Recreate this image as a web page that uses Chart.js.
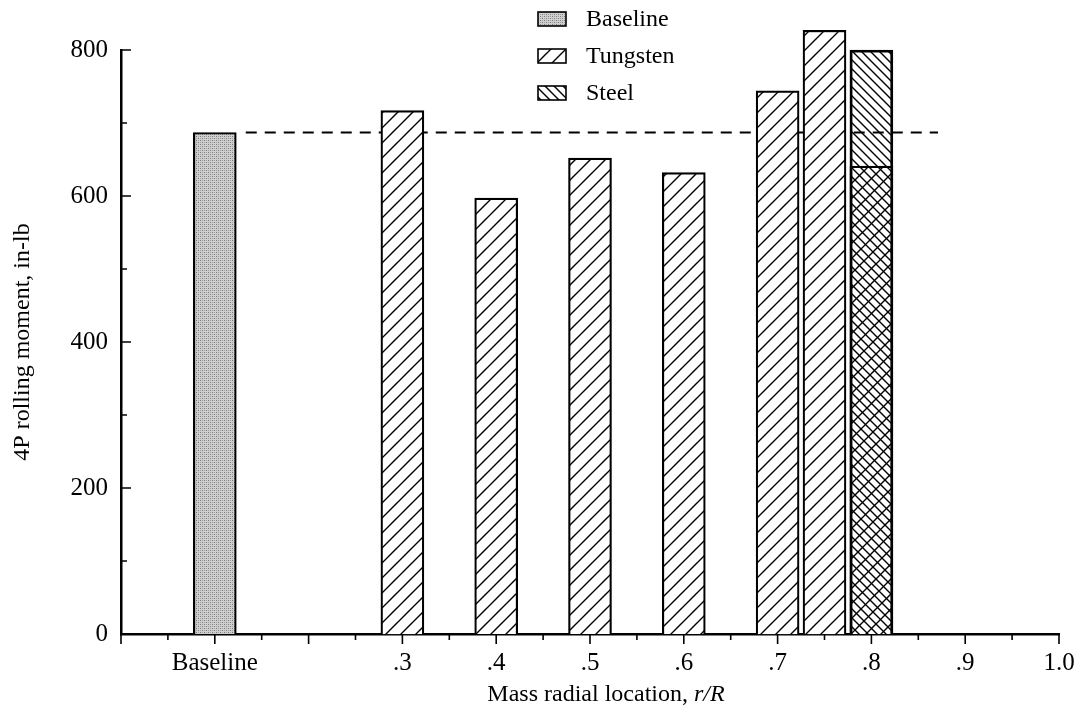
<!DOCTYPE html>
<html>
<head>
<meta charset="utf-8">
<script src="https://cdn.jsdelivr.net/npm/chart.js@4"></script>
<style>
  html, body { margin: 0; padding: 0; background: #fff; }
  #wrap { width: 1081px; height: 715px; }
</style>
</head>
<body>
<div id="wrap"><canvas id="rollChart" width="1081" height="715"></canvas></div>
<script>
// 질량 반경 위치별 4P 롤링 모멘트
const xTickValues = [0.1, 0.3, 0.4, 0.5, 0.6, 0.7, 0.8, 0.9, 1.0];
const xTickLabels = ['Baseline', '.3', '.4', '.5', '.6', '.7', '.8', '.9', '1.0'];

const baselineX = [0.1];
const baselineValues = [687];

const tungstenX = [0.3, 0.4, 0.5, 0.6, 0.7, 0.75, 0.8];
const tungstenValues = [717, 597, 652, 632, 744, 827, 641];

const steelX = [0.8];
const steelValues = [800];

// 기준선 (Baseline 값) 점선 구간
const refLineX = [0.133, 0.871];

const FONT = "'Liberation Serif', 'DejaVu Serif', serif";

function makeHatch(dir, size, bg) {
  const c = document.createElement('canvas');
  c.width = size; c.height = size;
  const g = c.getContext('2d');
  if (bg) { g.fillStyle = bg; g.fillRect(0, 0, size, size); }
  g.strokeStyle = '#000';
  g.lineWidth = 1.4;
  g.beginPath();
  if (dir === '/') {
    g.moveTo(0, size); g.lineTo(size, 0);
    g.moveTo(-2, 2); g.lineTo(2, -2);
    g.moveTo(size - 2, size + 2); g.lineTo(size + 2, size - 2);
  } else {
    g.moveTo(0, 0); g.lineTo(size, size);
    g.moveTo(-2, size - 2); g.lineTo(2, size + 2);
    g.moveTo(size - 2, -2); g.lineTo(size + 2, 2);
  }
  g.stroke();
  return g.createPattern(c, 'repeat');
}

function makeStipple() {
  const c = document.createElement('canvas');
  c.width = 4; c.height = 4;
  const g = c.getContext('2d');
  g.fillStyle = '#cfcfcf';
  g.fillRect(0, 0, 4, 4);
  g.fillStyle = '#7a7a7a';
  g.fillRect(0, 0, 1, 1);
  g.fillRect(2, 2, 1, 1);
  g.fillStyle = '#a4a4a4';
  g.fillRect(2, 0, 1, 1);
  g.fillRect(0, 2, 1, 1);
  return g.createPattern(c, 'repeat');
}

const stipple = makeStipple();
const tungstenFill = makeHatch('/', 15, '#fff');
const steelFill = makeHatch('\\', 9, null);

// 축 눈금 (안쪽/바깥쪽) 직접 그리기
const tickMarks = {
  id: 'tickMarks',
  afterDraw(chart) {
    const { ctx } = chart;
    const x = chart.scales.x, y = chart.scales.y;
    ctx.save();
    ctx.strokeStyle = '#000';
    ctx.lineWidth = 1.6;
    ctx.beginPath();
    x.ticks.forEach((t, i) => {
      const px = x.getPixelForValue(t.value);
      const len = i % 2 === 0 ? 10 : 6;
      ctx.moveTo(px, y.bottom); ctx.lineTo(px, y.bottom + len);
    });
    y.ticks.forEach(t => {
      const py = y.getPixelForValue(t.value);
      const len = t.value % 200 === 0 ? 10 : 6;
      ctx.moveTo(x.left, py); ctx.lineTo(x.left + len, py);
    });
    ctx.stroke();

    // x축 제목 (r/R 이탤릭)
    const cx = (x.left + x.right) / 2 + 16;
    const cy = 695;
    ctx.fillStyle = '#000';
    ctx.textBaseline = 'middle';
    const a = 'Mass radial location, ';
    ctx.font = '24px ' + FONT;
    const wa = ctx.measureText(a).width;
    ctx.font = 'italic 24px ' + FONT;
    const wb = ctx.measureText('r/R').width;
    const sx = cx - (wa + wb) / 2;
    ctx.font = '24px ' + FONT;
    ctx.textAlign = 'left';
    ctx.fillText(a, sx, cy);
    ctx.font = 'italic 24px ' + FONT;
    ctx.fillText('r/R', sx + wa, cy);

    // 범례
    const items = [
      { label: 'Baseline', fill: stipple },
      { label: 'Tungsten', fill: tungstenFill },
      { label: 'Steel', fill: steelFill },
    ];
    items.forEach((it, i) => {
      const by = 12 + i * 37;
      ctx.fillStyle = '#fff';
      ctx.fillRect(538, by, 28, 14);
      ctx.fillStyle = it.fill;
      ctx.fillRect(538, by, 28, 14);
      ctx.lineWidth = 1.6;
      ctx.strokeRect(538, by, 28, 14);
      ctx.fillStyle = '#000';
      ctx.font = '24px ' + FONT;
      ctx.textAlign = 'left';
      ctx.fillText(it.label, 586, by + 8);
    });
    ctx.restore();
  },
};

const barCommon = {
  type: 'bar',
  grouped: false,
  barThickness: 43,
  borderColor: '#000',
  borderWidth: 2.2,
  clip: false,
};

new Chart(document.getElementById('rollChart'), {
  type: 'bar',
  data: {
    datasets: [
      {
        ...barCommon,
        label: 'Steel',
        data: steelX.map((x, i) => ({ x, y: steelValues[i] })),
        backgroundColor: steelFill,
        order: 0,
      },
      {
        ...barCommon,
        label: 'Tungsten',
        data: tungstenX.map((x, i) => ({ x, y: tungstenValues[i] })),
        backgroundColor: tungstenFill,
        order: 1,
      },
      {
        ...barCommon,
        label: 'Baseline',
        data: baselineX.map((x, i) => ({ x, y: baselineValues[i] })),
        backgroundColor: stipple,
        order: 2,
      },
      {
        type: 'line',
        label: 'ref',
        data: refLineX.map(x => ({ x, y: baselineValues[0] })),
        borderColor: '#000',
        borderWidth: 2,
        borderDash: [11, 8],
        pointRadius: 0,
        fill: false,
        order: 3,
      },
    ],
  },
  options: {
    responsive: false,
    animation: false,
    layout: { padding: { top: 50, right: 22, left: 0, bottom: 0 } },
    plugins: { legend: { display: false }, tooltip: { enabled: false } },
    scales: {
      x: {
        type: 'linear',
        min: 0,
        max: 1,
        offset: false,
        grid: { display: false },
        border: { display: true, color: '#000', width: 2.5 },
        afterBuildTicks: s => {
          s.ticks = Array.from({ length: 21 }, (_, k) => ({ value: k / 20 }));
        },
        afterFit: s => { s.height = 81; s.paddingLeft = 0; s.paddingRight = 0; },
        ticks: {
          autoSkip: false,
          maxRotation: 0,
          padding: 6,
          color: '#000',
          font: { family: FONT, size: 25 },
          callback: v => {
            const i = xTickValues.findIndex(t => Math.abs(t - v) < 1e-6);
            return i >= 0 ? xTickLabels[i] : '';
          },
        },
      },
      y: {
        min: 0,
        max: 800,
        grid: { display: false },
        border: { display: true, color: '#000', width: 2.5 },
        afterFit: s => { s.width = 121; s.paddingTop = 0; s.paddingBottom = 0; },
        ticks: {
          stepSize: 100,
          padding: 5,
          color: '#000',
          font: { family: FONT, size: 25 },
          callback: v => (v % 200 === 0 ? v : ''),
        },
        title: {
          display: true,
          text: '4P rolling moment, in-lb',
          color: '#000',
          font: { family: FONT, size: 24 },
          padding: { top: 8, bottom: 0 },
        },
      },
    },
  },
  plugins: [tickMarks],
});
</script>
</body>
</html>
